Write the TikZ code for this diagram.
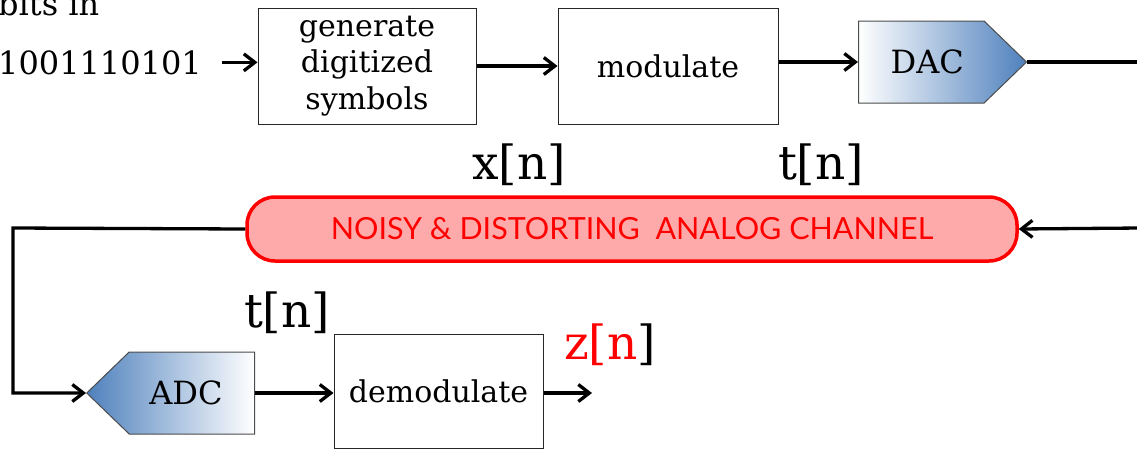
\documentclass[tikz,border=0pt]{standalone}
\usepackage{fontspec}
\setmainfont{DejaVu Serif}
\newfontfamily\chanfont{Lato}
\usetikzlibrary{arrows.meta,positioning,shapes.symbols}
\definecolor{chred}{RGB}{255,0,0}
\definecolor{chfill}{RGB}{255,170,170}
\definecolor{adblue}{RGB}{79,129,189}
\tikzset{
  >={Straight Barb[length=11pt,width=17pt]},
  blk/.style={draw=black!85,line width=1pt,minimum width=#1,minimum height=116pt,
    align=center,font=\fontsize{30}{36.5}\selectfont,inner sep=0pt},
  conv/.style={signal,signal to=#1,signal pointer angle=88,draw=black!70,line width=1pt,
    minimum width=168pt,minimum height=82pt,font=\fontsize{32}{32}\selectfont},
  flow/.style={->,line width=3.3pt},
  wire/.style={line width=3.3pt},
  sig/.style={font=\fontsize{47}{47}\selectfont,inner sep=0pt},
}
\begin{document}
\begin{tikzpicture}[x=1pt,y=-1pt]
  \useasboundingbox (0,0) rectangle (1137,448);
  % transmitter
  \node[anchor=base east,inner sep=0pt,font=\fontsize{32}{32}\selectfont] (bits) at (202,74) {1001110101};
  \node[anchor=base west,inner sep=0pt,font=\fontsize{32}{32}\selectfont] (bitsin) at ([yshift=59pt]bits.base west) {bits in};
  \node[blk=218pt] (gen) at (367,66) {generate\\digitized\\symbols};
  \node[blk=220pt] (mod) at (668,66) {modulate};
  \node[conv=east,anchor=west,left color=white,right color=adblue] (dac) at (858,62) {\kern12pt DAC};
  \coordinate (outR) at (1140,62);
  % channel
  \node[draw=chred,line width=3.5pt,fill=chfill,rounded corners=28pt,minimum width=770pt,
    minimum height=64pt,text=chred,font=\chanfont\fontsize{30.5}{30.5}\selectfont] (chan) at (632,229)
    {NOISY \& DISTORTING~ ANALOG CHANNEL};
  \coordinate (inR) at (1140,228);
  \coordinate (loopL) at (13,228);
  % receiver
  \node[conv=west,anchor=west,left color=adblue,right color=white] (adc) at (86,393) {ADC\kern12pt};
  \node[blk=209pt,minimum height=114pt] (demod) at (438.5,391) {demodulate};
  \coordinate (outZ) at (592,393);
  % signal labels
  \node[sig] (xn) at (519,165) {x[n]};
  \node[sig] (tn) at (821,165) {t[n]};
  \node[sig] (tn2) at (287,313) {t[n]};
  \node[sig] (zn) at (610,345) {\textcolor{red}{z[n}]};
  % connectors
  \draw[flow,shorten <=20pt] (bits.east) -- (bits.east -| gen.west);
  \draw[flow] (gen) -- (mod);
  \draw[flow] (mod.east |- dac.west) -- (dac.west);
  \draw[wire] (dac.east) -- (outR);
  \draw[flow] (inR) -- (chan.east);
  \draw[flow] (chan.west) -- (loopL) |- (adc.west);
  \draw[flow] (adc.east) -- (adc.east -| demod.west);
  \draw[flow] (demod.east |- outZ) -- (outZ);
\end{tikzpicture}
\end{document}
